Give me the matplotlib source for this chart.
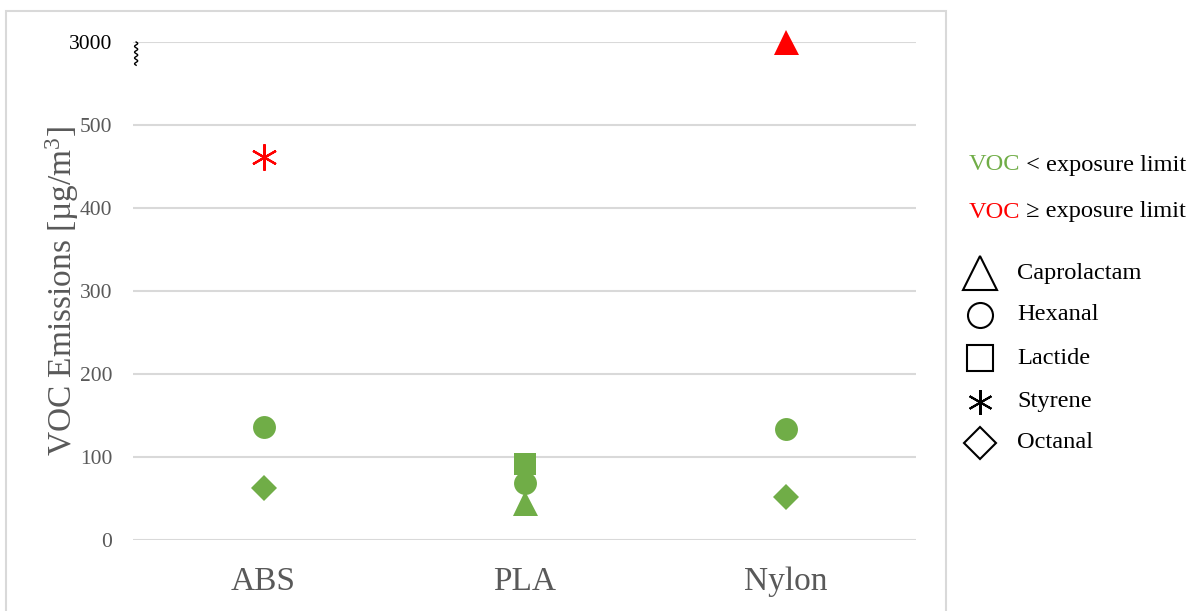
import numpy as np
import matplotlib.pyplot as plt
from matplotlib.patches import Rectangle
import matplotlib.transforms as mtransforms

plt.rcParams['font.family'] = ['Liberation Serif', 'DejaVu Serif']
plt.rcParams['mathtext.fontset'] = 'custom'
plt.rcParams['mathtext.rm'] = 'Liberation Serif'
plt.rcParams['mathtext.it'] = 'Liberation Serif'

# data (ug/m3); nan = not detected
materials = ['ABS', 'PLA', 'Nylon']
caprolactam = [np.nan, 45, 3000]
hexanal = [136, 69, 134]
lactide = [np.nan, 92, np.nan]
styrene = [462, np.nan, np.nan]
octanal = [63, np.nan, 52]

# True where the emission is at or above the exposure limit
caprolactam_over = [False, False, True]
hexanal_over = [False, False, False]
lactide_over = [False, False, False]
styrene_over = [True, False, False]
octanal_over = [False, False, False]

y_ticks = [0, 100, 200, 300, 400, 500]
break_value = 3000      # value shown above the axis break
break_pos = 600         # where it sits on the axis

GREEN = '#70AD47'
RED = '#FF0000'
GRAY = '#595959'
GRID = '#D9D9D9'


def to_axis(vals):
    return [break_pos if v > 500 else v for v in vals]


fig = plt.figure(figsize=(11.93, 6.11), dpi=100)
ax = fig.add_axes([133 / 1193, 71 / 611, 783 / 1193, 498 / 611])

x = np.arange(len(materials))
series = [
    (caprolactam, caprolactam_over, '^', 18, 0),
    (hexanal, hexanal_over, 'o', 16.5, 0),
    (lactide, lactide_over, 's', 16.5, 0),
    (styrene, styrene_over, (6, 2, 0), 19, 1.6),
    (octanal, octanal_over, 'D', 13, 0),
]
for vals, over, marker, ms, mew in series:
    for xi, v, o in zip(x, to_axis(vals), over):
        if np.isnan(v):
            continue
        c = RED if o else GREEN
        ax.plot(xi, v, linestyle='none', marker=marker, markersize=ms,
                color=c, markeredgecolor=c, markeredgewidth=mew,
                zorder=3, clip_on=False)

ax.set_xlim(-0.5, len(materials) - 0.5)
ax.set_ylim(0, break_pos)
ax.set_xticks(x)
ax.set_xticklabels(materials, fontsize=24, color=GRAY)
ax.set_yticks(y_ticks + [break_pos])
ax.set_yticklabels([str(t) for t in y_ticks] + [str(break_value)], fontsize=15.5, color=GRAY)
ax.get_yticklabels()[-1].set_color('black')
ax.tick_params(axis='both', length=0)
ax.tick_params(axis='y', pad=15)
ax.tick_params(axis='x', pad=19)
for s in ax.spines.values():
    s.set_visible(False)
ax.grid(axis='y', color=GRID, linewidth=1.5)
ax.set_axisbelow(True)
ax.set_ylabel('VOC Emissions [µg/m$^{3}$]', fontsize=24, color=GRAY)
ax.yaxis.set_label_coords(-0.066, 0.5)

# axis-break squiggle below the 3000 line
trans = mtransforms.blended_transform_factory(ax.transAxes, ax.transData)
sy = np.linspace(break_pos, break_pos - 28, 60)
sx = 0.004 + 0.002 * np.sin(np.linspace(0, 8 * np.pi, 60))
ax.plot(sx, sy, color='black', linewidth=1, transform=trans, clip_on=False)

# outer chart border
fig.add_artist(Rectangle((6 / 1193, -0.05), 940 / 1193, 1.05 - 11 / 611,
                         transform=fig.transFigure, fill=False,
                         edgecolor=GRID, linewidth=1.5))

# legend drawn in pixel space
lax = fig.add_axes([0, 0, 1, 1], zorder=-1)
lax.set_xlim(0, 1193)
lax.set_ylim(611, 0)
lax.axis('off')

for yy, col, rest in [(165, GREEN, ' < exposure limit'), (212, RED, ' ≥ exposure limit')]:
    t = lax.text(969, yy, 'VOC', color=col, fontsize=17.6, va='center', ha='left')
    lax.annotate(rest, xy=(1, 0), xycoords=t, va='bottom', ha='left',
                 fontsize=17.6, color='black')

legend_names = ['Caprolactam', 'Hexanal', 'Lactide', 'Styrene', 'Octanal']
legend_markers = [('^', 24), ('o', 18), ('s', 19), ((6, 2, 0), 18), ('D', 16.5)]
legend_rows = [273, 315, 358, 402, 443]
for name, (m, ms), yy in zip(legend_names, legend_markers, legend_rows):
    lax.plot(980, yy, marker=m, markersize=ms, markerfacecolor='white',
             markeredgecolor='black', markeredgewidth=1.5, linestyle='none')
    lax.text(1017, yy, name, fontsize=17.6, va='center', ha='left')

fig.savefig('out.png', dpi=100)
